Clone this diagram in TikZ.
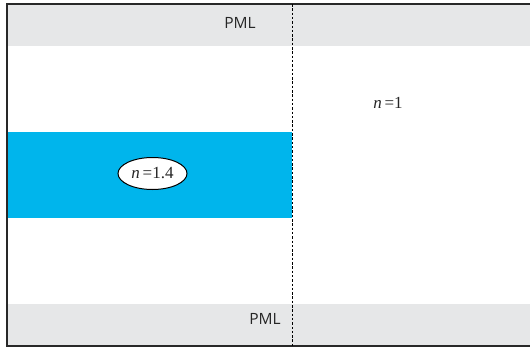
\documentclass[tikz,border=0pt]{standalone}
\usepackage{fontspec}
\setmainfont{Liberation Serif}
\newfontfamily\labelsans{Open Sans}
\usetikzlibrary{shapes.geometric}
\definecolor{pmlgray}{RGB}{230,231,232}
\definecolor{core}{RGB}{0,181,236}
\definecolor{frameline}{RGB}{40,40,40}
\begin{document}
\begin{tikzpicture}[x=1pt,y=-1pt,
  pmltext/.style={font=\labelsans\fontsize{15.5}{18}\selectfont, text=black!85, inner sep=0pt},
  idx/.style={font=\fontsize{17}{19}\selectfont, text=black!85, inner sep=0pt},
  idxring/.style={ellipse, draw=black, line width=1pt, fill=white, minimum width=69pt, minimum height=32pt, inner sep=0pt, font=\fontsize{17}{19}\selectfont, text=black!85},
  boundary/.style={draw=black, line width=1.5pt, dash pattern=on 2.5pt off 1.8pt}]
  \useasboundingbox (0,0) rectangle (530,348);
  % absorbing layers top and bottom
  \fill[pmlgray] (7,4) rectangle (530,45.5);
  \fill[pmlgray] (7,304) rectangle (530,346);
  % high-index slab
  \fill[core] (7,132) rectangle (292,218);
  % outer frame
  \draw[frameline, line width=1.3pt] (531,4) -- (7,4) -- (7,346) -- (531,346);
  % interface between the two regions
  \coordinate (bt) at (292.5,4);
  \coordinate (bb) at (292.5,346);
  \draw[boundary] (bt) -- (bb);
  % labels
  \node[pmltext] (pmltop) at (240,23) {PML};
  \node[pmltext] (pmlbot) at (265,319) {PML};
  \node[idxring] (ncore) at (152.5,173.5) {\textit{n}\,=1.4};
  \node[idx] (nclad) at (388,103) {\textit{n}\,=1};
\end{tikzpicture}
\end{document}
